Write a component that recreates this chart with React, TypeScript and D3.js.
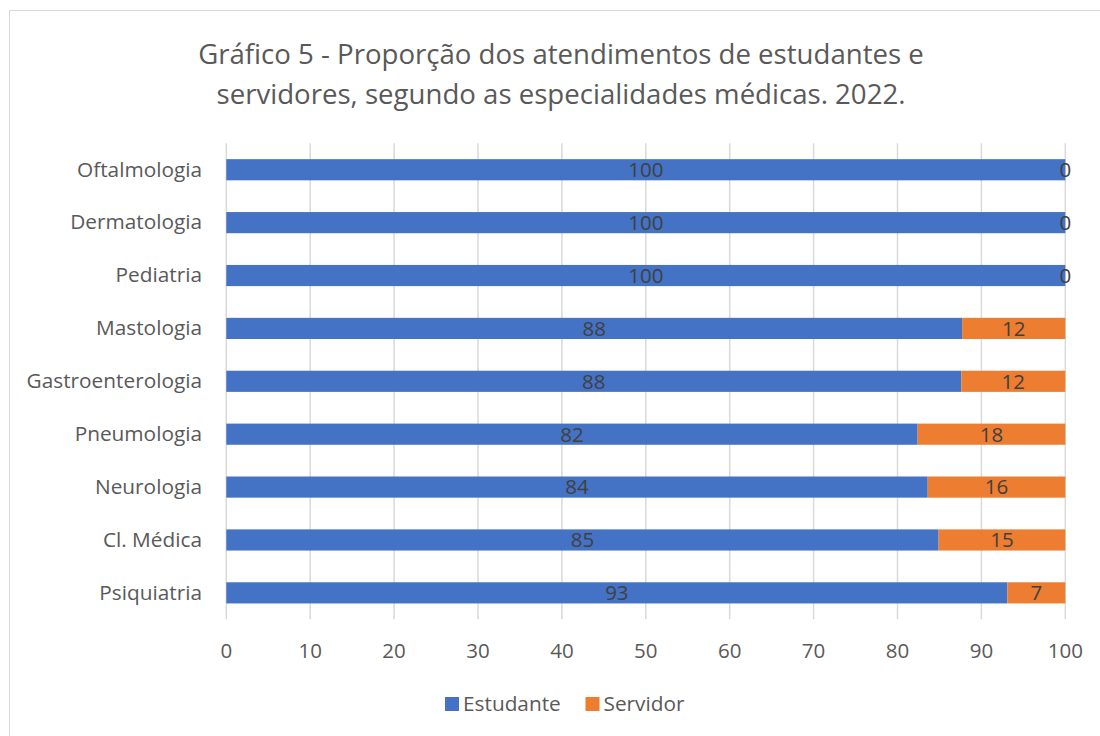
import React from "react";
import * as d3 from "d3";

const categories = [
  "Oftalmologia",
  "Dermatologia",
  "Pediatria",
  "Mastologia",
  "Gastroenterologia",
  "Pneumologia",
  "Neurologia",
  "Cl. Médica",
  "Psiquiatria",
];
const estudante = [100, 100, 100, 87.7, 87.6, 82.4, 83.6, 84.9, 93.1];
const servidor = [0, 0, 0, 12.3, 12.4, 17.6, 16.4, 15.1, 6.9];
const xTicks = [0, 10, 20, 30, 40, 50, 60, 70, 80, 90, 100];
const seriesNames = ["Estudante", "Servidor"];
const colors = ["#4472C4", "#ED7D31"];
const titleLines = [
  "Gráfico 5 - Proporção dos atendimentos de estudantes e",
  "servidores, segundo as especialidades médicas. 2022.",
];

const FONT = "'Open Sans', sans-serif";

export default function App() {
  const x = d3.scaleLinear().domain([0, 100]).range([226.3, 1065.3]);
  const y = d3
    .scaleBand<string>()
    .domain(categories)
    .range([143.3, 619.3])
    .paddingInner(0.6)
    .paddingOuter(0.3);
  const fmt = d3.format(".0f");
  const bh = y.bandwidth();

  const rows = categories.map((c, i) => ({
    c,
    segs: [
      { x0: 0, x1: estudante[i], v: estudante[i], s: 0 },
      { x0: estudante[i], x1: estudante[i] + servidor[i], v: servidor[i], s: 1 },
    ],
  }));

  return (
    <svg
      width={1100}
      height={736}
      style={{ position: "absolute", left: 0, top: 0, background: "#fff" }}
      fontFamily={FONT}
    >
      <rect x={9.5} y={10.5} width={1100} height={740} fill="#fff" stroke="#d9d9d9" strokeWidth={1} />
      {titleLines.map((t, i) => (
        <text key={i} x={561} y={64 + i * 40} textAnchor="middle" fontSize={27.6} fill="#595959">
          {t}
        </text>
      ))}
      {xTicks.map((t) => (
        <line
          key={t}
          x1={x(t)}
          x2={x(t)}
          y1={143.3}
          y2={619.3}
          stroke="#d9d9d9"
          strokeWidth={1.5}
        />
      ))}
      {rows.map((r) =>
        r.segs.map((s) => (
          <rect
            key={r.c + s.s}
            x={x(s.x0)}
            y={y(r.c)!}
            width={Math.max(0, x(s.x1) - x(s.x0))}
            height={bh}
            fill={colors[s.s]}
          />
        ))
      )}
      {rows.map((r) =>
        r.segs.map((s) => (
          <text
            key={"l" + r.c + s.s}
            x={x((s.x0 + s.x1) / 2)}
            y={y(r.c)! + bh / 2}
            dy="0.36em"
            textAnchor="middle"
            fontSize={20.5}
            fill="#404040"
          >
            {fmt(s.v)}
          </text>
        ))
      )}
      {categories.map((c) => (
        <text
          key={"c" + c}
          x={202}
          y={y(c)! + bh / 2}
          dy="0.33em"
          textAnchor="end"
          fontSize={20.8}
          fill="#595959"
        >
          {c}
        </text>
      ))}
      {xTicks.map((t) => (
        <text key={"t" + t} x={x(t)} y={658} textAnchor="middle" fontSize={20.5} fill="#595959">
          {t}
        </text>
      ))}
      <rect x={445} y={697} width={14} height={14} fill={colors[0]} />
      <text x={463} y={711} fontSize={20.8} fill="#595959">
        {seriesNames[0]}
      </text>
      <rect x={585.5} y={697} width={14} height={14} fill={colors[1]} />
      <text x={603.5} y={711} fontSize={20.8} fill="#595959">
        {seriesNames[1]}
      </text>
    </svg>
  );
}
